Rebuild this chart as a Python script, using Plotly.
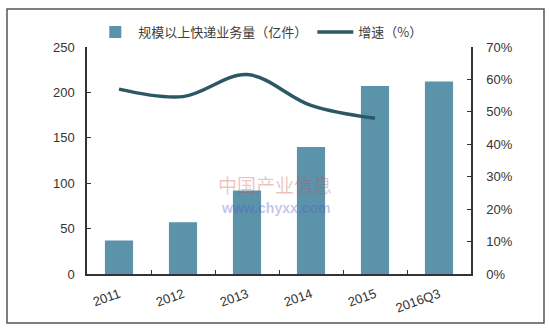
import plotly.graph_objects as go

categories = ["2011", "2012", "2013", "2014", "2015", "2016Q3"]
volume = [37, 57, 92, 140, 207, 212]
growth_cats = ["2011", "2012", "2013", "2014", "2015"]
growth = [0.57, 0.547, 0.615, 0.52, 0.48]

FONT = "Liberation Sans, Arial, Noto Sans CJK SC"
fig = go.Figure()
fig.add_trace(go.Bar(
    x=categories, y=volume, name="规模以上快递业务量（亿件）",
    marker=dict(color="#5b93ab", line=dict(width=0)), width=0.44,
))
fig.add_trace(go.Scatter(
    x=growth_cats, y=growth, name="增速（%）", yaxis="y2", mode="lines",
    line=dict(color="#2e5765", width=3.5, shape="spline", smoothing=1.0),
))
fig.update_layout(
    width=549, height=330,
    margin=dict(l=87, r=78, t=47, b=56),
    paper_bgcolor="white", plot_bgcolor="white",
    font=dict(family=FONT, size=13, color="#333333"),
    showlegend=True,
    legend=dict(orientation="h", x=0.45, xanchor="center", y=1.0, yanchor="bottom",
                font=dict(family="Noto Sans CJK SC, Liberation Sans", size=13, color="#404040"),
                bgcolor="rgba(0,0,0,0)", itemwidth=36),
    xaxis=dict(type="category", showline=True, linecolor="#333333", linewidth=1.5,
               ticks="inside", tickson="boundaries", ticklen=4, tickcolor="#333333",
               tickangle=-20, showgrid=False, zeroline=False, ticklabelstandoff=6,
               tickfont=dict(size=13, color="#333333")),
    yaxis=dict(range=[0, 250], dtick=50, showline=True, linecolor="#333333", linewidth=1.5,
               ticks="inside", ticklen=4, tickcolor="#333333", showgrid=False, zeroline=False,
               ticklabelstandoff=8, tickfont=dict(size=13, color="#333333")),
    yaxis2=dict(range=[0, 0.7], dtick=0.1, tickformat=".0%", overlaying="y", side="right",
                showline=True, linecolor="#333333", linewidth=1.5, ticks="inside", ticklen=4,
                tickcolor="#333333", showgrid=False, zeroline=False, ticklabelstandoff=11,
                tickfont=dict(size=13, color="#333333")),
    bargap=0.56,
)
fig.add_shape(type="rect", xref="paper", yref="paper",
              x0=-80/384, x1=(544-87)/384, y0=-(323-274)/227, y1=(274-9)/227,
              line=dict(color="#555555", width=1.5), fillcolor="rgba(0,0,0,0)", layer="below")
fig.add_annotation(text="中国产业信息", x=0.49, y=0.326, xref="paper", yref="paper", showarrow=False,
                   font=dict(family="Noto Sans CJK SC", size=19, color="rgba(200,80,80,0.35)"))
fig.add_annotation(text="<b>www.chyxx.com</b>", x=0.49, y=0.245, xref="paper", yref="paper", showarrow=False,
                   font=dict(family="Liberation Sans", size=14, color="rgba(80,90,200,0.35)"))
fig.write_html("out.html")
